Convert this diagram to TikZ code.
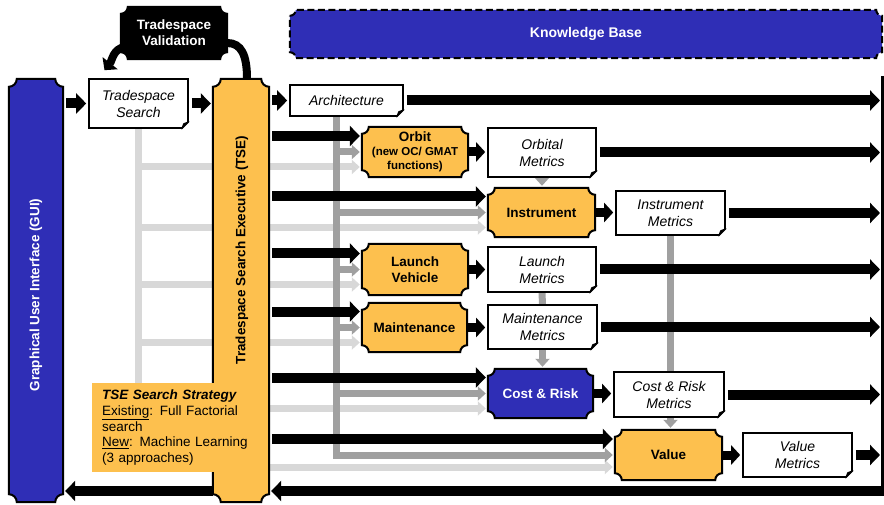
\documentclass[tikz,border=0pt]{standalone}
\usepackage{fontspec}
\setmainfont{Liberation Sans}
\usetikzlibrary{arrows.meta,calc,positioning}

\definecolor{guiblue}{RGB}{47,46,182}
\definecolor{tseorange}{RGB}{253,192,78}
\definecolor{midgray}{RGB}{160,160,160}
\definecolor{palegray}{RGB}{216,216,216}

\pgfdeclarelayer{lines}
\pgfdeclarelayer{boxes}
\pgfsetlayers{lines,boxes,main}

% concave-cornered outline behind a named node
\newcommand\scallop[3][7pt]{%
  \begin{pgfonlayer}{boxes}
  \path[draw=black,line width=2pt,#3] let \p1=(#2.south west), \p2=(#2.north east) in
    (\x1,\y2-#1) arc[start angle=-90,end angle=0,radius=#1]
    -- (\x2-#1,\y2) arc[start angle=180,end angle=270,radius=#1]
    -- (\x2,\y1+#1) arc[start angle=90,end angle=180,radius=#1]
    -- (\x1+#1,\y1) arc[start angle=0,end angle=90,radius=#1] -- cycle;
  \end{pgfonlayer}}

% folded bottom-right corner of a metric box
\newcommand\dogear[1]{%
  \fill[white] ($(#1.south east)+(-8.5pt,-1.5pt)$) -- ($(#1.south east)+(1.5pt,-1.5pt)$)
    -- ($(#1.south east)+(1.5pt,8.5pt)$) -- cycle;
  \filldraw[line width=1.2pt,line join=round] ($(#1.south east)+(-7pt,0pt)$)
    -- ($(#1.south east)+(0pt,7pt)$) -- ($(#1.south east)+(-5pt,5pt)$) -- cycle;}

\tikzset{
  proc/.style={inner sep=0pt, align=center, font=\bfseries\fontsize{13.5}{16}\selectfont},
  metric/.style={draw, line width=1.6pt, fill=white, inner sep=0pt, align=center,
    font=\itshape\fontsize{14}{17}\selectfont},
  fat/.style={line width=10pt, shorten <=3pt, shorten >=2pt, -{Triangle[length=10pt,width=20pt]}},
  stub/.style={line width=9pt, shorten >=2pt, -{Triangle[length=9pt,width=19pt]}},
  midline/.style={midgray, line width=7pt, shorten >=2pt, -{Triangle[length=8pt,width=14pt]}},
  paleline/.style={palegray, line width=7pt, shorten >=2pt, -{Triangle[length=8pt,width=14pt]}},
}

\begin{document}
\begin{tikzpicture}[x=1pt,y=-1pt]
\useasboundingbox (0,0) rectangle (884,505);

% side columns
\node[proc, minimum width=54pt, minimum height=423pt] (gui) at (36,290.5) {};
\node[proc, minimum width=56pt, minimum height=423pt] (tse) at (241,290.5) {};
\node[proc, text=white, rotate=90] (guitext) at (36,295) {Graphical User Interface (GUI)};
\node[proc, rotate=90] (tsetext) at (242,250) {Tradespace Search Executive (TSE)};
\scallop[8pt]{gui}{fill=guiblue}
\scallop[8pt]{tse}{fill=tseorange}

% top row
\node[proc, text=white, minimum width=106pt, minimum height=52pt] (valid) at (174,33) {Tradespace\\Validation};
\scallop{valid}{fill=black}
\node[proc, text=white, font=\bfseries\fontsize{14}{16}\selectfont,
  minimum width=592pt, minimum height=48pt] (kb) at (586,34) {Knowledge Base};
\scallop[6pt]{kb}{fill=guiblue, dash pattern=on 7pt off 3.5pt}

\node[metric, minimum width=99pt, minimum height=49pt] (ts) at (138.5,103.5) {Tradespace\\Search};
\node[metric, minimum width=113pt, minimum height=31pt] (arch) at (346.5,100.5) {Architecture};

% models
\node[proc, font=\bfseries\fontsize{11.5}{14}\selectfont, minimum width=106pt, minimum height=50pt]
  (orbit) at (415,152) {{\fontsize{13.5}{15}\selectfont Orbit}\\(new OC/ GMAT\\functions)};
\node[proc, minimum width=107pt, minimum height=49pt] (instr) at (541.5,212.5) {Instrument};
\node[proc, minimum width=106pt, minimum height=51pt] (lv) at (415,269.5) {Launch\\Vehicle};
\node[proc, minimum width=105pt, minimum height=49pt] (maint) at (414.5,327.5) {Maintenance};
\node[proc, text=white, minimum width=105pt, minimum height=49pt] (cr) at (540.5,393.5) {Cost \& Risk};
\node[proc, minimum width=107pt, minimum height=50pt] (value) at (668.5,455) {Value};
\foreach \m in {orbit,instr,lv,maint,value}
  \scallop{\m}{fill=tseorange};
\scallop{cr}{fill=guiblue}

% metrics
\node[metric, minimum width=108pt, minimum height=49pt] (om) at (542,152.5) {Orbital\\Metrics};
\node[metric, minimum width=109pt, minimum height=44pt] (im) at (670.5,213) {Instrument\\Metrics};
\node[metric, minimum width=108pt, minimum height=45pt] (lm) at (542,269.5) {Launch\\Metrics};
\node[metric, minimum width=109pt, minimum height=44pt] (mm) at (542.5,327) {Maintenance\\Metrics};
\node[metric, minimum width=110pt, minimum height=45pt] (crm) at (669,394.5) {Cost \& Risk\\Metrics};
\node[metric, minimum width=109pt, minimum height=44pt] (vm) at (797.5,455) {Value\\Metrics};
\foreach \m in {ts,arch,om,im,lm,mm,crm,vm}
  \dogear{\m};

% search strategy note
\node[fill=tseorange, anchor=north west, text width=150pt, inner xsep=10pt, inner ysep=4pt,
  minimum height=89pt, align=left, font=\fontsize{13.5}{15.8}\selectfont] (strategy) at (92,383)
  {\textbf{\textit{TSE Search Strategy}}\\
   \underline{Existing}: Full Factorial\\
   search\\
   \underline{New}: Machine Learning\\
   (3 approaches)};

\coordinate (kbtop) at (882,76);
\coordinate (kbbot) at (882,491);
\coordinate (archfoot) at ([xshift=-10pt]arch.south);

\begin{pgfonlayer}{lines}
% tradespace search feed
\draw[paleline] (ts.south) -- ($(ts.south |- value.west)+(0,-12pt)$) -- ($(value.west)+(0,-12pt)$);
\foreach \m in {orbit,instr,lv,maint,cr}
  \draw[paleline] ($(ts.south |- \m.west)+(0,-15pt)$) -- ($(\m.west)+(0,-15pt)$);

% architecture feed
\draw[midline] (archfoot) -- (archfoot |- value.west) -- (value.west);
\foreach \m in {orbit,instr,lv,maint,cr}
  \draw[midline] (archfoot |- \m.west) -- (\m.west);
\draw[midline] (om.south) -- (om.south |- instr.north);
\draw[midgray, line width=7pt] (lm.south) -- (mm.north);
\draw[midline] (mm.south) -- (mm.south |- cr.north);
\draw[midline] (im.south) -- (im.south |- value.north);

% TSE outputs
\draw[fat] (tse.east |- arch.west) -- (arch.west);
\foreach \m in {orbit,instr,lv,maint,cr,value}
  \draw[fat] ($(tse.east |- \m.west)+(0,16pt)$) -- ($(\m.west)+(0,16pt)$);
\foreach \src/\dst in {orbit/om,instr/im,lv/lm,maint/mm,cr/crm,value/vm}
  \draw[stub] (\src.east) -- (\src.east -| \dst.west);
\foreach \m in {arch,om,im,lm,mm,crm,vm}
  \draw[fat] (\m.east) -- (\m.east -| kbtop);

% return path
\draw[line width=3pt] (kbtop) -- (kbbot);
\draw[fat, shorten <=0pt] ($(kbbot)+(1.5pt,0)$) -- (tse.east |- kbbot);
\draw[fat, shorten <=0pt] (tse.west |- kbbot) -- (gui.east |- kbbot);

% GUI to search to TSE
\draw[fat] (gui.east |- ts.west) -- (ts.west);
\draw[fat] (ts.east) -- (ts.east -| tse.west);
\end{pgfonlayer}

% validation loop
\draw[line width=8pt] ([xshift=6pt]tse.north) .. controls +(0pt,24pt) and +(14pt,0pt) .. ([yshift=-10pt]valid.east);
\draw[line width=8pt, -{Triangle[length=9pt,width=19pt]}] ([xshift=4pt,yshift=-14pt]valid.west)
  .. controls +(-12pt,-2pt) and +(8pt,10pt) .. ([xshift=-34pt,yshift=8pt]ts.north);
\end{tikzpicture}
\end{document}
